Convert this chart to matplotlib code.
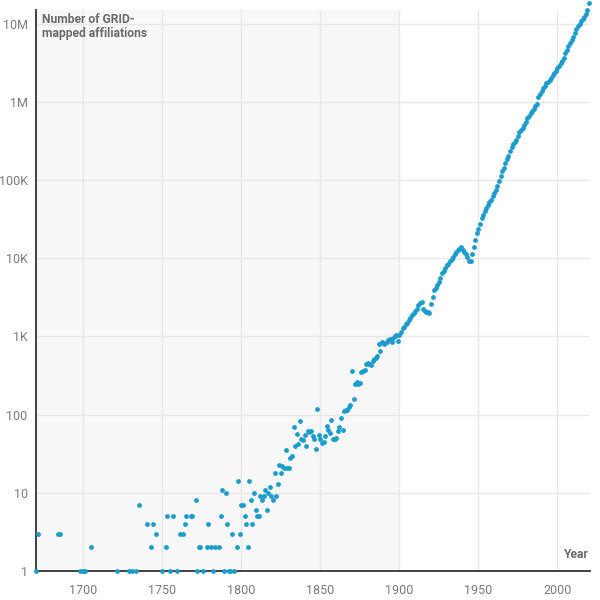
import matplotlib
matplotlib.use("Agg")
import matplotlib.pyplot as plt
from matplotlib.ticker import FixedLocator

plt.rcParams['font.family'] = ['Roboto', 'DejaVu Sans']

# founding year -> number of GRID-mapped affiliations
years_early = [1670, 1671, 1684, 1685, 1698, 1700, 1701, 1705, 1721, 1729, 1731, 1733,
               1735, 1740, 1743, 1744, 1746, 1750, 1752, 1753, 1755, 1757, 1759, 1761,
               1763, 1764, 1765, 1768, 1769, 1771, 1772, 1773, 1774, 1776, 1778, 1779,
               1781, 1782, 1783, 1786, 1787, 1788, 1789, 1790, 1791, 1792, 1793, 1794,
               1795, 1797, 1798, 1799, 1800, 1801, 1802, 1803, 1804, 1805, 1806, 1807,
               1808, 1809, 1810, 1811, 1812, 1813, 1814, 1815, 1816, 1817, 1818, 1819,
               1820]
counts_early = [1, 3, 3, 3, 1, 1, 1, 2, 1, 1, 1, 1,
                7, 4, 2, 4, 3, 1, 2, 5, 1, 5, 1, 3,
                3, 4, 5, 5, 5, 8, 1, 2, 2, 1, 2, 4,
                2, 1, 2, 2, 5, 11, 1, 10, 4, 1, 1, 3,
                1, 2, 14, 3, 7, 7, 5, 4, 2, 14, 8, 4,
                10, 6, 5, 5, 9, 8, 9, 11, 6, 10, 12, 9,
                8]

years_1821 = list(range(1821, 1900))
counts_1821 = [18, 9, 13, 23, 18, 22, 21, 35, 21, 21,
               28, 30, 69, 40, 57, 42, 83, 49, 47, 55,
               40, 62, 60, 61, 54, 49, 36, 117, 55, 49,
               44, 45, 54, 71, 64, 59, 86, 49, 49, 50,
               61, 69, 90, 63, 111, 116, 116, 125, 131, 360,
               158, 245, 265, 250, 255, 350, 360, 370, 450, 460,
               440, 430, 480, 520, 535, 560, 806, 660, 845, 790,
               830, 845, 890, 920, 845, 960, 1000, 1030, 870]

years_1900 = list(range(1900, 1950))
counts_1900 = [1030, 1150, 1290, 1330, 1430, 1500, 1620, 1740, 1860, 2000,
               2140, 2260, 2510, 2690, 2750, 2260, 2140, 2040, 2040, 2000,
               2570, 3240, 3890, 4170, 4570, 5010, 5620, 6460, 6920, 7410,
               8130, 8510, 9330, 9770, 10470, 11220, 12020, 12590, 13200, 13800,
               12880, 12020, 11220, 10470, 9330, 9120, 11220, 14130, 16980, 21380]

years_1950 = list(range(1950, 2021))
counts_1950 = [24000, 27500, 32400, 35500, 39800, 43600, 47900, 52500, 56200, 63100,
               69200, 75900, 85100, 97700, 112000, 129000, 145000, 166000, 186000, 204000,
               234000, 263000, 288000, 309000, 331000, 363000, 407000, 437000, 468000, 513000,
               550000, 617000, 661000, 724000, 759000, 813000, 891000, 955000, 1150000, 1260000,
               1380000, 1510000, 1620000, 1740000, 1820000, 1910000, 2040000, 2240000, 2340000, 2510000,
               2690000, 2880000, 3160000, 3390000, 3630000, 4170000, 4680000, 5130000, 5620000, 6170000,
               6760000, 7590000, 8510000, 9330000, 10000000, 10700000, 11500000, 12300000, 13500000, 14800000,
               18600000]

years = years_early + years_1821 + years_1900 + years_1950
counts = counts_early + counts_1821 + counts_1900 + counts_1950

x_ticks = [1700, 1750, 1800, 1850, 1900, 1950, 2000]
y_ticks = [1, 10, 100, 1000, 10000, 100000, 1000000, 10000000]
y_tick_labels = ['1', '10', '100', '1K', '10K', '100K', '1M', '10M']

fig = plt.figure(figsize=(6, 6), dpi=100)
ax = fig.add_axes([0.06, 0.0483, 0.923, 0.935])

ax.set_yscale('log')
ax.set_xlim(1670, 2020.5)
ax.set_ylim(1, 1.5e7)

ax.axvspan(1670, 1900, color='#f8f8f8', zorder=0, lw=0)

ax.xaxis.set_major_locator(FixedLocator(x_ticks))
ax.yaxis.set_major_locator(FixedLocator(y_ticks))
ax.yaxis.set_minor_locator(FixedLocator([]))
ax.set_yticklabels(y_tick_labels)
ax.grid(True, color='#e8e8e8', lw=1, zorder=1)
ax.set_axisbelow(True)

ax.tick_params(length=0, labelsize=9, colors='#7a7a7a', pad=6)
ax.tick_params(axis='x', pad=9)
for s in ['top', 'right']:
    ax.spines[s].set_visible(False)
for s in ['left', 'bottom']:
    ax.spines[s].set_color('#333333')
    ax.spines[s].set_linewidth(1.3)

ax.scatter(years, counts, s=12, color='#1a9cce', lw=0, zorder=5, clip_on=False)

ax.text(0.011, 0.995, 'Number of GRID-\nmapped affiliations', transform=ax.transAxes,
        ha='left', va='top', fontsize=8.7, fontweight='bold', color='#6b6b6b',
        linespacing=1.15)
ax.text(0.998, 0.018, 'Year', transform=ax.transAxes, ha='right', va='bottom',
        fontsize=8.7, fontweight='bold', color='#6b6b6b')

fig.savefig('out.png', dpi=100)
